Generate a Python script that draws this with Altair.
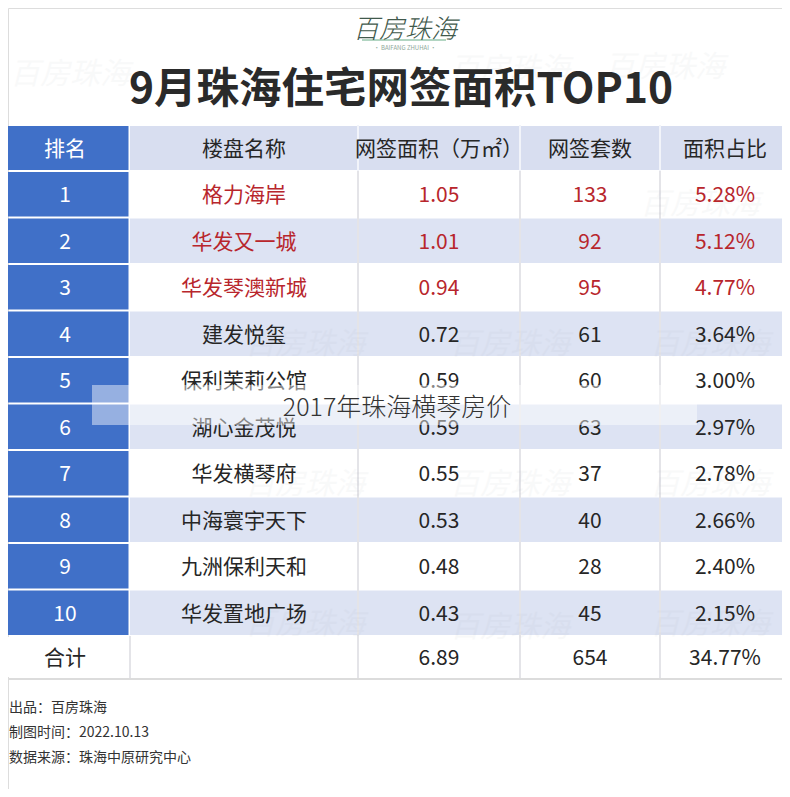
import altair as alt
import pandas as pd

# ---------------- data ----------------
title = "9月珠海住宅网签面积TOP10"
headers = ["排名", "楼盘名称", "网签面积（万㎡）", "网签套数", "面积占比"]
ranks = ["1", "2", "3", "4", "5", "6", "7", "8", "9", "10"]
names = ["格力海岸", "华发又一城", "华发琴澳新城", "建发悦玺", "保利茉莉公馆",
         "湖心金茂悦", "华发横琴府", "中海寰宇天下", "九洲保利天和", "华发置地广场"]
areas = ["1.05", "1.01", "0.94", "0.72", "0.59", "0.59", "0.55", "0.53", "0.48", "0.43"]
units = ["133", "92", "95", "61", "60", "63", "37", "40", "28", "45"]
shares = ["5.28%", "5.12%", "4.77%", "3.64%", "3.00%", "2.97%", "2.78%", "2.66%", "2.40%", "2.15%"]
total_row = ["合计", "", "6.89", "654", "34.77%"]
highlight_top = 3
footer = ["出品：百房珠海", "制图时间：2022.10.13", "数据来源：珠海中原研究中心"]
overlay_text = "2017年珠海横琴房价"
logo = "百房珠海"

# ---------------- layout (style constants) ----------------
FONT = "Noto Sans CJK SC"
W, H = 790, 797
COL_EDGES = [0, 130, 358, 520, 660, 790]
TABLE_TOP = 125
HEADER_H = 46
ROW_H = 46.5
TOTAL_H = 42
BLUE = "#4070c8"
LAV_HEAD = "#d8def0"
LAV_ROW = "#dde3f3"
RED = "#b8262c"
DARK = "#262626"

n = len(ranks)
row_tops = [TABLE_TOP] + [TABLE_TOP + HEADER_H + i * ROW_H for i in range(n)] + \
           [TABLE_TOP + HEADER_H + n * ROW_H]
row_bots = [TABLE_TOP + HEADER_H] + [TABLE_TOP + HEADER_H + (i + 1) * ROW_H for i in range(n)] + \
           [TABLE_TOP + HEADER_H + n * ROW_H + TOTAL_H]

# cell backgrounds
cells = []
for r in range(n + 2):
    for c in range(5):
        if r == n + 1:
            fill = "#ffffff"
        elif c == 0:
            fill = BLUE
        elif r == 0:
            fill = LAV_HEAD
        elif r % 2 == 0:
            fill = LAV_ROW
        else:
            fill = "#ffffff"
        cells.append(dict(x=COL_EDGES[c], x2=COL_EDGES[c + 1] - (1.5 if c == 0 else 0),
                          y=row_tops[r] + 1, y2=row_bots[r] - 1, fill=fill))
cells_df = pd.DataFrame(cells)

# texts
texts = []
for c in range(5):
    texts.append(dict(x=(COL_EDGES[c] + COL_EDGES[c + 1]) / 2, y=(row_tops[0] + row_bots[0]) / 2,
                      t=headers[c], color="#ffffff" if c == 0 else DARK))
for i in range(n):
    vals = [ranks[i], names[i], areas[i], units[i], shares[i]]
    for c in range(5):
        if c == 0:
            col = "#ffffff"
        elif i < highlight_top:
            col = RED
        else:
            col = DARK
        texts.append(dict(x=(COL_EDGES[c] + COL_EDGES[c + 1]) / 2,
                          y=(row_tops[i + 1] + row_bots[i + 1]) / 2, t=vals[c], color=col))
for c in range(5):
    if total_row[c]:
        texts.append(dict(x=(COL_EDGES[c] + COL_EDGES[c + 1]) / 2,
                          y=(row_tops[n + 1] + row_bots[n + 1]) / 2, t=total_row[c], color=DARK))
texts_df = pd.DataFrame(texts)

# page area inside the 8px margin, 1:1 with the reference's pixels
X0, X1 = 8, W - 8
Y0, Y1 = 8, H - 8
xs = alt.Scale(domain=[X0, X1], nice=False, zero=False)
ys = alt.Scale(domain=[Y0, Y1], nice=False, zero=False, reverse=True)
X = lambda f: alt.X(f, type="quantitative", scale=xs, axis=None)
Y = lambda f: alt.Y(f, type="quantitative", scale=ys, axis=None)

bg = alt.Chart(cells_df).mark_rect(strokeWidth=0, clip=True).encode(
    x=X("x"), x2="x2", y=Y("y"), y2="y2",
    color=alt.Color("fill:N", scale=None))

# vertical separators
vlines_df = pd.DataFrame([dict(x=e, y=row_tops[1], y2=row_bots[n + 1]) for e in COL_EDGES[2:5]] +
                         [dict(x=COL_EDGES[1], y=row_tops[n + 1], y2=row_bots[n + 1])])
vlines = alt.Chart(vlines_df).mark_rule(color="#e4e4e8", strokeWidth=2).encode(
    x=X("x"), y=Y("y"), y2="y2")
hvlines_df = pd.DataFrame([dict(x=e, y=row_tops[0], y2=row_bots[0]) for e in COL_EDGES[2:5]])
hvlines = alt.Chart(hvlines_df).mark_rule(color="#f2f4fa", strokeWidth=2).encode(
    x=X("x"), y=Y("y"), y2="y2")
bottom_df = pd.DataFrame([dict(x=X0, x2=X1, y=row_bots[n + 1] + 1)])
bottom = alt.Chart(bottom_df).mark_rule(color="#dcdcdc", strokeWidth=2).encode(
    x=X("x"), x2="x2", y=Y("y"))

text_cells = alt.Chart(texts_df).mark_text(font=FONT, fontSize=21, align="center", baseline="middle",
                                           dy=2).encode(
    x=X("x"), y=Y("y"), text="t:N", color=alt.Color("color:N", scale=None))

# faint watermarks
wm_df = pd.DataFrame([
    dict(x=70, y=75), dict(x=510, y=70), dict(x=665, y=68),
    dict(x=700, y=205), dict(x=305, y=345), dict(x=510, y=345), dict(x=710, y=345),
    dict(x=305, y=485), dict(x=510, y=485), dict(x=710, y=485),
    dict(x=305, y=625), dict(x=510, y=628), dict(x=710, y=625),
])
wm_df["t"] = logo
watermark = alt.Chart(wm_df).mark_text(font=FONT, fontSize=30, fontStyle="italic", color="#9aa0a8",
                                       opacity=0.06, align="center", baseline="middle").encode(
    x=X("x"), y=Y("y"), text="t:N")

# header: logo + title
logo_df = pd.DataFrame([dict(x=405, y=30, t=logo)])
logo_mark = alt.Chart(logo_df).mark_text(font=FONT, fontSize=26, fontStyle="italic", fontWeight=300,
                                         color="#41594c", align="center", baseline="middle").encode(
    x=X("x"), y=Y("y"), text="t:N")
logo_sub_df = pd.DataFrame([dict(x=405, y=48, t="• BAIFANG ZHUHAI •")])
logo_sub = alt.Chart(logo_sub_df).mark_text(font=FONT, fontSize=6, color="#8fa89a",
                                            align="center", baseline="middle").encode(
    x=X("x"), y=Y("y"), text="t:N")
logo_bar_df = pd.DataFrame([dict(x=362, x2=446, y=40)])
logo_bar = alt.Chart(logo_bar_df).mark_rule(color="#7fb99a", strokeWidth=2, opacity=0.6).encode(
    x=X("x"), x2="x2", y=Y("y"))
title_df = pd.DataFrame([dict(x=401, y=90, t=title)])
title_mark = alt.Chart(title_df).mark_text(font=FONT, fontSize=42.5, fontWeight="bold", color="#2a2a2a",
                                           align="center", baseline="middle").encode(
    x=X("x"), y=Y("y"), text="t:N")

# overlay
ov_df = pd.DataFrame([dict(x=92, x2=697, y=385, y2=425)])
overlay = alt.Chart(ov_df).mark_rect(color="#ffffff", opacity=0.45).encode(
    x=X("x"), x2="x2", y=Y("y"), y2="y2")
ovt_df = pd.DataFrame([dict(x=397, y=408, t=overlay_text)])
overlay_t = alt.Chart(ovt_df).mark_text(font=FONT, fontSize=25, fontWeight=300, color="#333333",
                                        align="center", baseline="middle").encode(
    x=X("x"), y=Y("y"), text="t:N")

# footer (kept just inside the visible page area)
ft_df = pd.DataFrame([dict(x=X0 + 1, y=708 + 25 * i, t=s) for i, s in enumerate(footer)])
foot = alt.Chart(ft_df).mark_text(font=FONT, fontSize=14, color="#333333",
                                  align="left", baseline="middle").encode(
    x=X("x"), y=Y("y"), text="t:N")

chart = alt.layer(
    bg, vlines, hvlines, bottom, watermark, text_cells, logo_bar, logo_mark, logo_sub, title_mark,
    overlay, overlay_t, foot
).properties(
    width=X1 - X0, height=Y1 - Y0, padding=0, autosize=alt.AutoSizeParams(type="none")
).configure_view(strokeWidth=0).configure(background="#ffffff")

chart.save("out.html", embed_options={"renderer": "svg", "actions": False})
